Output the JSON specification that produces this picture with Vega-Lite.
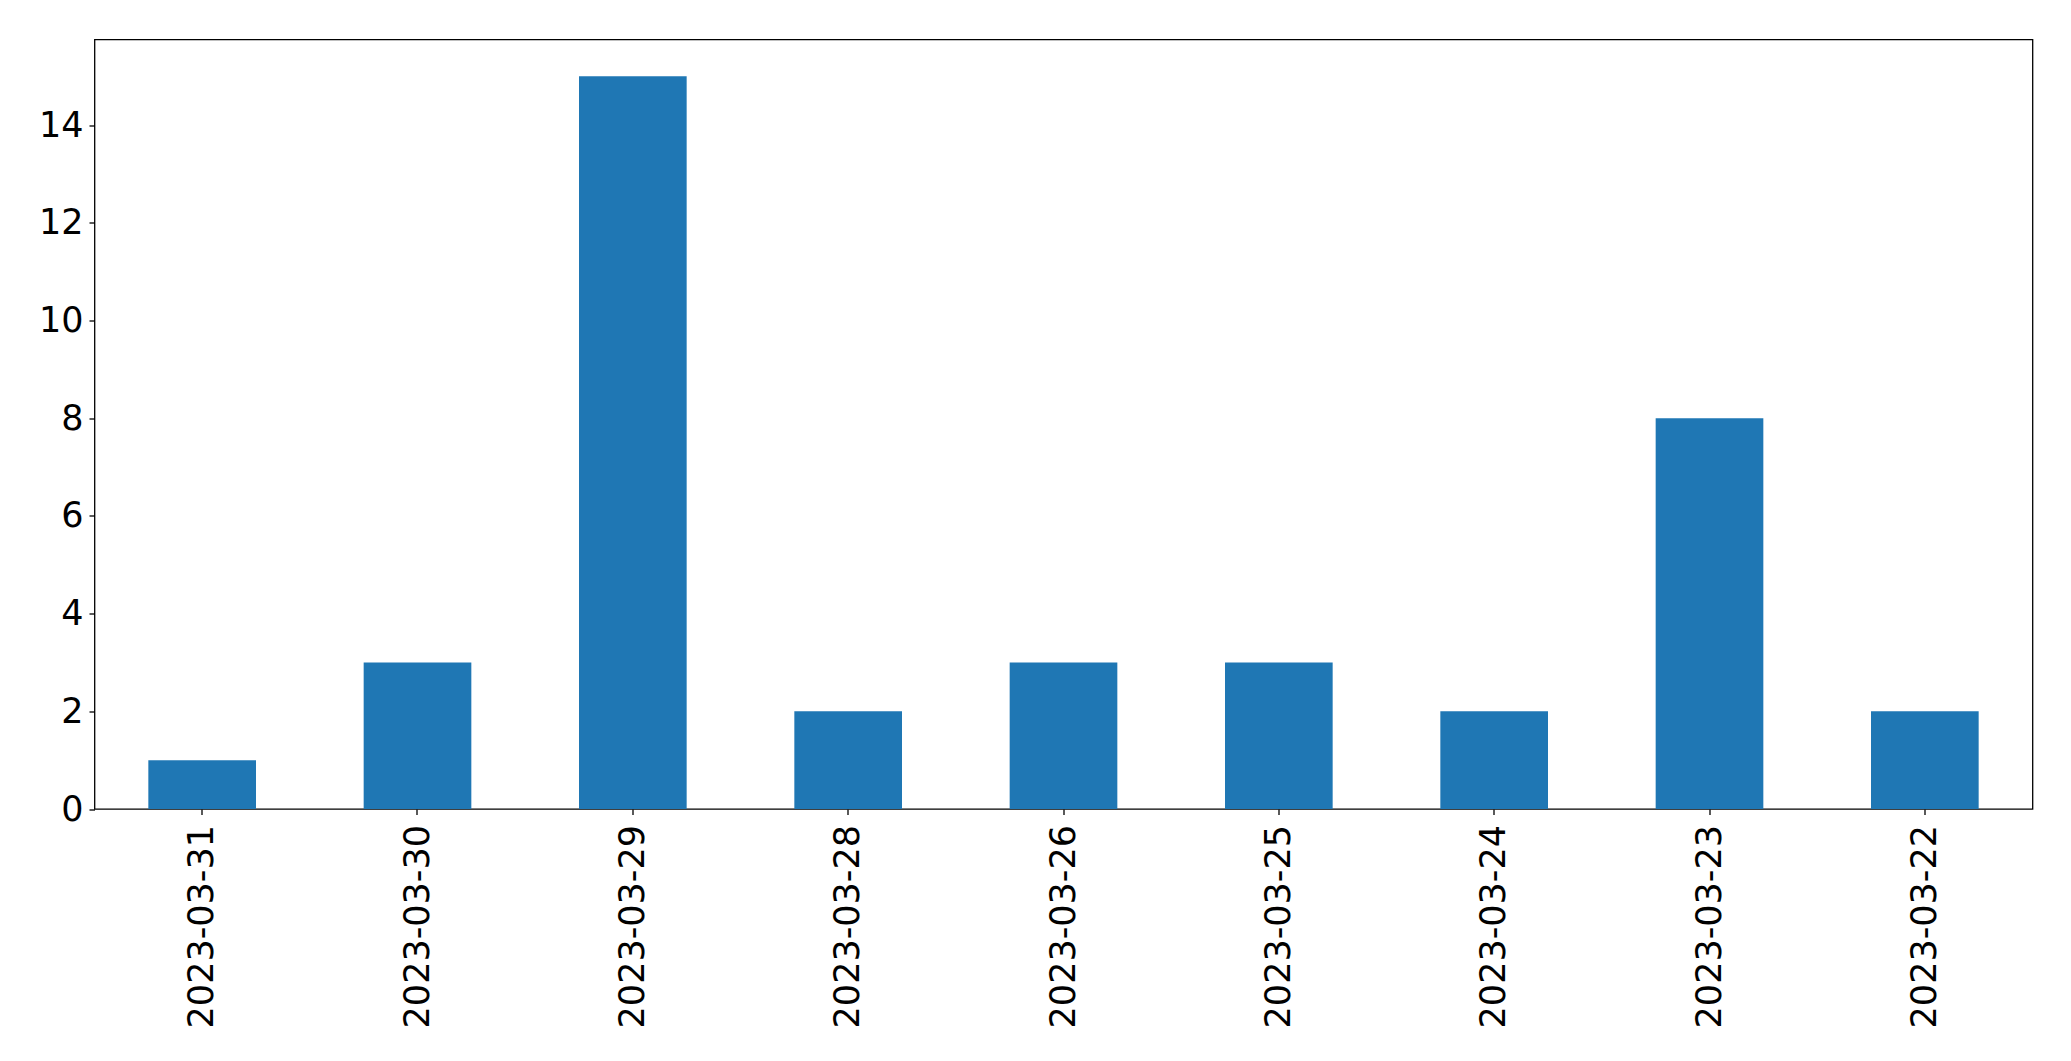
{
  "$schema": "https://vega.github.io/schema/vega-lite/v6.json",
  "width": 1938,
  "height": 769.5,
  "autosize": {"type": "none"},
  "padding": {"left": 94.5, "top": 39.5, "right": 38.5, "bottom": 252},
  "background": "white",
  "config": {
    "view": {"stroke": "black", "strokeWidth": 1.3},
    "font": "DejaVu Sans",
    "axis": {"grid": false, "domain": false, "tickColor": "black", "tickWidth": 1.3, "tickSize": 5.5, "labelColor": "black", "labelFont": "DejaVu Sans", "labelFontSize": 35, "labelLimit": 0, "title": null}
  },
  "data": {
    "values": [
      {"date": "2023-03-31", "count": 1},
      {"date": "2023-03-30", "count": 3},
      {"date": "2023-03-29", "count": 15},
      {"date": "2023-03-28", "count": 2},
      {"date": "2023-03-26", "count": 3},
      {"date": "2023-03-25", "count": 3},
      {"date": "2023-03-24", "count": 2},
      {"date": "2023-03-23", "count": 8},
      {"date": "2023-03-22", "count": 2}
    ]
  },
  "mark": {"type": "bar", "color": "#1f77b4"},
  "encoding": {
    "x": {
      "field": "date", "type": "nominal", "sort": null,
      "scale": {"paddingInner": 0.5, "paddingOuter": 0.25},
      "axis": {"labelAngle": -90, "labelPadding": 10, "labelAlign": "right", "labelBaseline": "middle"}
    },
    "y": {
      "field": "count", "type": "quantitative",
      "scale": {"domain": [0, 15.75], "nice": false},
      "axis": {"values": [0, 2, 4, 6, 8, 10, 12, 14], "labelPadding": 6}
    }
  }
}
